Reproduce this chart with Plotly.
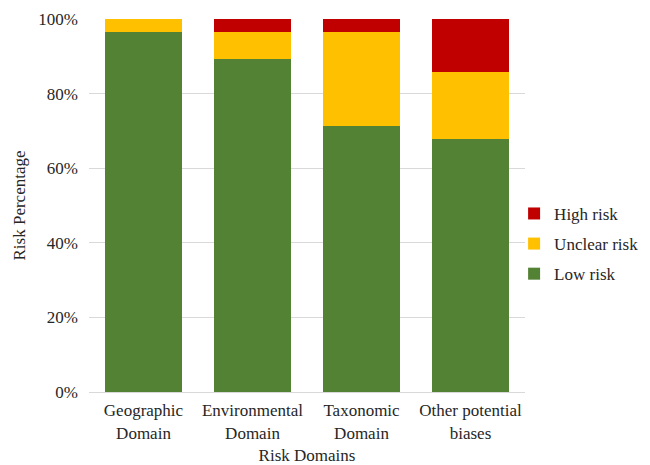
import plotly.graph_objects as go

# Risk-of-bias assessment across 28 studies, as percentages per domain
domains = ["Geographic<br>Domain", "Environmental<br>Domain", "Taxonomic<br>Domain", "Other potential<br>biases"]
low_risk = [96.4, 89.3, 71.4, 67.9]
unclear_risk = [3.6, 7.1, 25.0, 17.9]
high_risk = [0.0, 3.6, 3.6, 14.2]

series = [
    ("Low risk", low_risk, "#548235", 3),
    ("Unclear risk", unclear_risk, "#FFC000", 2),
    ("High risk", high_risk, "#C00000", 1),
]

font_family = "Liberation Serif, Times New Roman, serif"
text_color = "#262626"

fig = go.Figure()
for name, vals, color, rank in series:
    fig.add_trace(go.Bar(
        x=domains, y=vals, name=name, legendgroup=name, legendrank=rank,
        marker=dict(color=color, line=dict(width=0)),
    ))

fig.update_layout(
    barmode="stack",
    bargap=0.30,
    width=650, height=465,
    margin=dict(l=89, r=125, t=19, b=73, autoexpand=False),
    paper_bgcolor="white", plot_bgcolor="white",
    font=dict(family=font_family, size=17, color=text_color),
    showlegend=True,
    legend=dict(
        x=0.975, y=0.397, xanchor="left", yanchor="middle",
        traceorder="grouped", tracegroupgap=5,
        font=dict(family=font_family, size=17, color=text_color),
        bgcolor="rgba(0,0,0,0)",
    ),
    xaxis=dict(
        title=dict(text="Risk Domains", standoff=10,
                   font=dict(family=font_family, size=17, color=text_color)),
        tickfont=dict(family=font_family, size=17, color=text_color),
        ticklabelstandoff=3,
        showgrid=False, showline=True, linecolor="#d9d9d9", linewidth=1,
        ticks="",
    ),
    yaxis=dict(
        title=dict(text="Risk Percentage", standoff=8,
                   font=dict(family=font_family, size=17, color=text_color)),
        range=[0, 100], dtick=20, ticksuffix="%",
        tickfont=dict(family=font_family, size=17, color=text_color),
        ticklabelstandoff=10,
        showgrid=True, gridcolor="#d9d9d9", gridwidth=1,
        zeroline=False, showline=False, ticks="",
    ),
)

fig.write_html("out.html")
